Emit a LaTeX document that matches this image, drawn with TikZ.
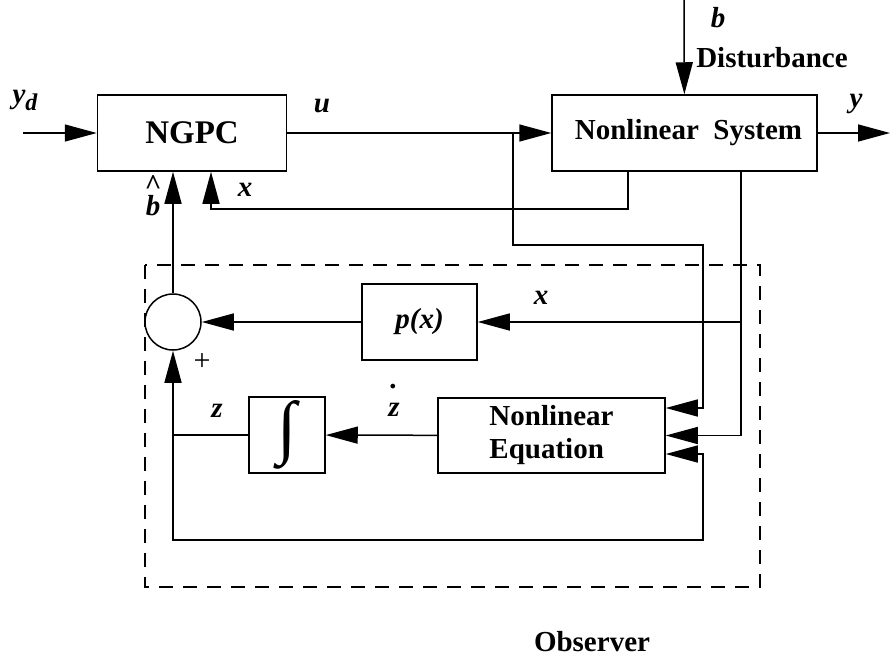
\documentclass[tikz,border=0pt]{standalone}
\usepackage{fontspec}
\setmainfont{Liberation Serif}
\usetikzlibrary{arrows.meta,positioning}

\begin{document}
\begin{tikzpicture}[x=1pt,y=-1pt,line width=1.5pt,
  >={Triangle[length=32pt,width=17pt]},
  block/.style={draw, inner sep=0pt, font=\fontsize{29}{33}\selectfont\bfseries},
  var/.style={inner sep=0pt, font=\fontsize{29}{30}\selectfont\bfseries\itshape},
  sum/.style={draw, circle, minimum size=56pt, inner sep=0pt}]
\useasboundingbox (0,0) rectangle (890,662);

% Blocks
\node[block, minimum width=189pt, minimum height=76pt, font=\fontsize{33}{36}\selectfont\bfseries] (ngpc) at (192,133) {NGPC\hspace{14pt}};
\node[block, minimum width=265pt, minimum height=76pt] (sys) at (684.5,133) {\hspace{8pt}Nonlinear\ \ System};
\node[sum] (sum) at (173,322) {};
\node[block, minimum width=115pt, minimum height=76pt, font=\fontsize{29}{30}\selectfont\bfseries\itshape] (px) at (419.5,322) {p(x)};
\node[block, minimum width=76pt, minimum height=76pt, font=\normalfont] (int) at (287,435) {\resizebox{!}{50pt}{\char"222B}};
\node[block, minimum width=227pt, minimum height=75pt, align=left] (ne) at (551.5,435.5) {Nonlinear\\Equation};

% Observer frame
\draw[dash pattern=on 14pt off 10pt] (145,265) rectangle (760,587);
\node[block, draw=none] (obs) at (592,642) {Observer};

% Labels
\node[var] (lyd) at (25,100) {y\raisebox{-7pt}{\fontsize{24}{24}\selectfont d}};
\node[var] (lu) at (322,106) {u};
\node[var] (lb) at (718,18) {b};
\node[block, draw=none] (ldist) at (772,58) {Disturbance};
\node[var] (ly) at (856,104) {y};
\node[var] (lx1) at (245,190) {x};
\node[var, align=center] (lbh) at (153,196) {\textasciicircum\\[-9pt]b};
\node[var] (lx2) at (541,298) {x};
\node[inner sep=0pt, font=\fontsize{30}{30}\selectfont] (lp) at (202,362) {+};
\node[var] (lz) at (217,411) {z};
\node[var, align=center] (lzd) at (394,400) {.\\[-2pt]z};

% Connectors
\coordinate (ydin) at (23,133);
\coordinate (dist) at (684,0);
\coordinate (yout) at (890,133);
\coordinate (ubr) at (513,133);
\coordinate (c1) at (513,245);
\coordinate (c2) at (703,245);
\coordinate (xfb) at (211,209);
\coordinate (xbr) at (741,322);
\coordinate (rb) at (703,540);
\coordinate (lbot) at (173,540);

\draw[->] (ydin) -- (ngpc);
\draw[->] (ngpc) -- (sys);
\draw[->] (dist) -- (sys);
\draw[->] (sys) -- (yout);
\draw[->] (ubr) -- (c1) -- (c2) |- ([yshift=27.5pt]ne.east);
\draw[->] ([xshift=-56.5pt]sys.south) |- (xfb) -- (xfb |- ngpc.south);
\draw[->] ([xshift=56.5pt]sys.south) |- (ne.east);
\draw[->] (xbr) -- (px);
\draw[->] (px) -- (sum);
\draw[->] (ne) -- (int);
\draw (int) -- (int -| sum);
\draw[<->] ([yshift=-18.5pt]ne.east) -| (rb) -- (lbot) -- (sum.south);
\draw[->] (sum) -- (sum |- ngpc.south);
\end{tikzpicture}
\end{document}
